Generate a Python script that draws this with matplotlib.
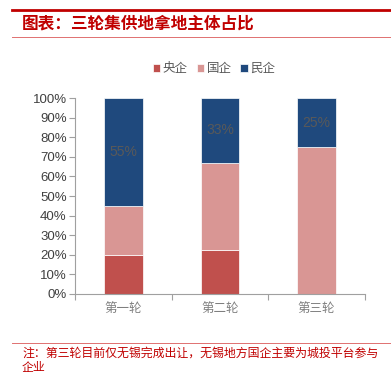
import matplotlib.pyplot as plt
import numpy as np
from matplotlib.lines import Line2D

plt.rcParams['font.family'] = ['Liberation Sans', 'Noto Sans CJK SC', 'DejaVu Sans']

# data
rounds = ['第一轮', '第二轮', '第三轮']
central = [20, 22.5, 0]     # 央企
local = [25, 44.5, 75]      # 国企
private = [55, 33, 25]      # 民企
private_labels = ['55%', '33%', '25%']

colors = ['#C0504D', '#D99694', '#1F497D']
red = '#C00000'

fig = plt.figure(figsize=(3.91, 3.75), dpi=100)

# header lines and title
fig.add_artist(Line2D([12 / 391, 1], [1 - 10 / 375] * 2, color=red, lw=2))
fig.add_artist(Line2D([12 / 391, 1], [1 - 37 / 375] * 2, color='#E07070', lw=0.7))
fig.text(22 / 391, 1 - 24 / 375, '图表：三轮集供地拿地主体占比', color=red,
         fontsize=12, style='italic', va='center', ha='left',
         family=['Noto Sans CJK SC'], fontweight='bold')

ax = fig.add_axes([75 / 391, 81 / 375, 290 / 391, 196 / 375])
x = np.arange(len(rounds))
w = 0.4
b1 = ax.bar(x, central, w, color=colors[0], edgecolor='white', lw=0.5, label='央企')
b2 = ax.bar(x, local, w, bottom=central, color=colors[1], edgecolor='white', lw=0.5, label='国企')
bottom2 = np.array(central) + np.array(local)
b3 = ax.bar(x, private, w, bottom=bottom2, color=colors[2], edgecolor='white', lw=0.5, label='民企')

for i, v in enumerate(private):
    ax.text(x[i], bottom2[i] + v / 2, private_labels[i], ha='center', va='center',
            color='#595959', fontsize=10)

ax.set_xlim(-0.5, 2.5)
ax.set_ylim(0, 100)
ax.set_yticks(range(0, 101, 10))
ax.set_yticklabels([f'{t}%' for t in range(0, 101, 10)], fontsize=9.5, color='#404040')
ax.set_xticks([-0.5, 0.5, 1.5, 2.5], minor=False)
ax.set_xticklabels([])
ax.set_xticks(x, minor=True)
ax.set_xticklabels(rounds, minor=True, fontsize=9, color='#7F7F7F',
                   family=['Noto Sans CJK SC'])
ax.tick_params(axis='x', which='minor', length=0, pad=6)
ax.tick_params(axis='x', which='major', length=4, color='#A0A0A0', direction='out')
ax.tick_params(axis='y', length=4, color='#A0A0A0', direction='out', pad=2)
for s in ['top', 'right']:
    ax.spines[s].set_visible(False)
for s in ['left', 'bottom']:
    ax.spines[s].set_color('#A0A0A0')

leg = ax.legend(handles=[b1, b2, b3], loc='center', bbox_to_anchor=(0.48, 1.15),
                ncol=3, frameon=False, handlelength=0.6, handleheight=0.6,
                handletextpad=0.2, columnspacing=0.7,
                prop={'family': ['Noto Sans CJK SC'], 'size': 9})
for t in leg.get_texts():
    t.set_color('#595959')

# footer
fig.add_artist(Line2D([12 / 391, 1], [1 - 343 / 375] * 2, color='#E07070', lw=0.7))
fig.text(22 / 391, 1 - 353 / 375, '注：第三轮目前仅无锡完成出让，无锡地方国企主要为城投平台参与',
         color=red, fontsize=8.6, va='center', ha='left', family=['Noto Sans CJK SC'])
fig.text(22 / 391, 1 - 367 / 375, '企业', color=red, fontsize=8.6, va='center',
         ha='left', family=['Noto Sans CJK SC'])

fig.savefig('out.png', dpi=100)
